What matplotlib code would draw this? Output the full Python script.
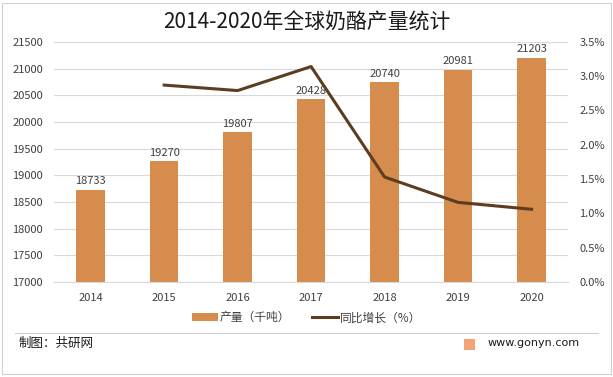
import matplotlib.pyplot as plt
from matplotlib.patches import Rectangle, Patch
from matplotlib.lines import Line2D

plt.rcParams['font.family'] = ['Noto Sans CJK SC', 'DejaVu Sans']

years = ['2014', '2015', '2016', '2017', '2018', '2019', '2020']
output = [18733, 19270, 19807, 20428, 20740, 20981, 21203]
growth_years = ['2015', '2016', '2017', '2018', '2019', '2020']
growth = [2.87, 2.79, 3.14, 1.53, 1.16, 1.06]

bar_color = '#D68C4D'
line_color = '#5C3D22'
tick_color = '#404040'

fig = plt.figure(figsize=(6.13, 3.77), dpi=100)
fig.patches.append(Rectangle((0.004, 0.008), 0.992, 0.985, transform=fig.transFigure,
                             fill=False, edgecolor='#D0D0D0', linewidth=0.8))

ax = fig.add_axes([0.088, 0.252, 0.839, 0.637])
x = list(range(len(years)))
bars = ax.bar(x, output, width=0.39, color=bar_color, zorder=2)
for xi, v in zip(x, output):
    ax.text(xi, v + 60, str(v), ha='center', va='bottom', fontsize=8, color=tick_color)

ax.set_ylim(17000, 21500)
ax.set_yticks(range(17000, 21501, 500))
ax.set_xlim(-0.5, len(years) - 0.5)
ax.set_xticks(x)
ax.set_xticklabels(years)
ax.grid(axis='y', color='#D9D9D9', linewidth=0.8, zorder=0)
for s in ['top', 'right', 'left']:
    ax.spines[s].set_visible(False)
ax.spines['bottom'].set_color('#D9D9D9')
ax.tick_params(length=0, labelsize=8, colors=tick_color, pad=8)

ax2 = ax.twinx()
gx = [years.index(y) for y in growth_years]
ax2.plot(gx, growth, color=line_color, linewidth=2.2, zorder=3)
ax2.set_ylim(0, 3.5)
ax2.set_yticks([i * 0.5 for i in range(8)])
ax2.set_yticklabels(['%.1f%%' % (i * 0.5) for i in range(8)])
for s in ax2.spines.values():
    s.set_visible(False)
ax2.tick_params(length=0, labelsize=8, colors=tick_color, pad=8)

fig.text(0.5, 0.94, '2014-2020年全球奶酪产量统计', ha='center', va='center',
         fontsize=15, color='#1a1a1a')

handles = [Patch(facecolor=bar_color), Line2D([0], [0], color=line_color, linewidth=2.2)]
fig.legend(handles, ['产量（千吨）', '同比增长（%）'], loc='center', bbox_to_anchor=(0.5, 0.157),
           ncol=2, frameon=False, fontsize=8.5, handlelength=2.2, handleheight=0.7,
           columnspacing=1.8, handletextpad=0.2, labelcolor=tick_color)

fig.add_artist(Line2D([0.025, 0.975], [0.118, 0.118], transform=fig.transFigure,
                      color='#D0D0D0', linewidth=0.8))
fig.text(0.03, 0.088, '制图：共研网', ha='left', va='center', fontsize=9, color='#1a1a1a')
fig.patches.append(Rectangle((0.757, 0.072), 0.018, 0.03, transform=fig.transFigure,
                             facecolor='#F3A37A', edgecolor='none'))
fig.text(0.795, 0.09, 'www.gonyn.com', ha='left', va='center', fontsize=8,
         color='#1a1a1a', family='DejaVu Sans')

fig.savefig('out.png', dpi=100)
